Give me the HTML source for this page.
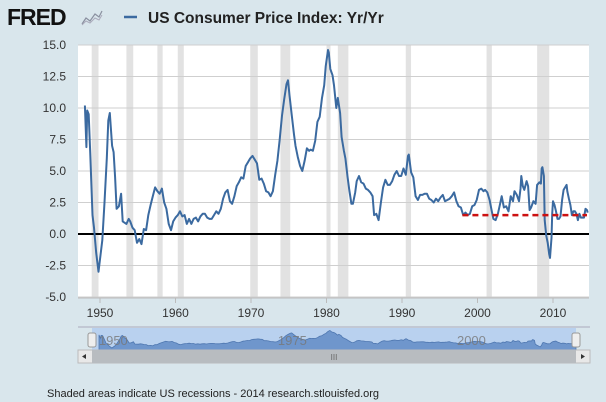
<!DOCTYPE html>
<html><head><meta charset="utf-8"><style>
body{margin:0;width:606px;height:402px;background:#d9e6ec;overflow:hidden;font-family:"Liberation Sans",sans-serif}
svg{display:block}
</style></head><body>
<svg id="c" width="606" height="402">
<text x="7" y="25" font-size="23" font-weight="bold" fill="#111" letter-spacing="-1">FRED</text>
<path d="M82 24 L86 18 L90 21 L95 14 L99 17 L102 11" stroke="#8a90a0" stroke-width="1.2" fill="none"/>
<path d="M82 25 L86 21 L90 23 L95 18 L99 20 L102 15" stroke="#aab" stroke-width="1" fill="none"/>
<line x1="124" y1="17" x2="137" y2="17" stroke="#3b6aa0" stroke-width="2.5"/>
<text x="148" y="23" font-size="15.5" font-weight="bold" fill="#222">US Consumer Price Index: Yr/Yr</text>
<text x="47" y="397" font-size="11" fill="#222">Shaded areas indicate US recessions - 2014 research.stlouisfed.org</text>
</svg>
<script>
const years=[1948.0,1948.2,1948.3,1948.5,1948.7,1949.0,1949.2,1949.5,1949.8,1950.0,1950.3,1950.6,1950.9,1951.1,1951.3,1951.6,1951.8,1952.0,1952.2,1952.5,1952.8,1953.0,1953.5,1953.8,1954.0,1954.3,1954.6,1954.9,1955.2,1955.5,1955.8,1956.1,1956.4,1956.7,1957.0,1957.3,1957.6,1957.9,1958.2,1958.5,1958.8,1959.1,1959.4,1959.7,1960.0,1960.3,1960.6,1960.9,1961.2,1961.5,1961.8,1962.1,1962.4,1962.7,1963.0,1963.3,1963.6,1963.9,1964.2,1964.5,1964.8,1965.1,1965.4,1965.7,1966.0,1966.3,1966.6,1966.9,1967.2,1967.5,1967.8,1968.1,1968.4,1968.7,1969.0,1969.3,1969.6,1969.9,1970.2,1970.5,1970.8,1971.1,1971.4,1971.7,1972.0,1972.3,1972.6,1972.9,1973.2,1973.5,1973.8,1974.1,1974.4,1974.7,1974.9,1975.1,1975.4,1975.7,1975.9,1976.2,1976.5,1976.8,1977.1,1977.4,1977.7,1977.9,1978.2,1978.5,1978.8,1979.1,1979.4,1979.7,1979.9,1980.2,1980.3,1980.5,1980.8,1981.0,1981.3,1981.5,1981.8,1982.0,1982.3,1982.5,1982.8,1983.0,1983.3,1983.5,1983.8,1984.0,1984.3,1984.6,1984.9,1985.2,1985.5,1985.8,1986.1,1986.3,1986.6,1986.9,1987.2,1987.5,1987.8,1988.1,1988.4,1988.7,1989.0,1989.3,1989.6,1989.9,1990.2,1990.5,1990.8,1990.9,1991.2,1991.5,1991.8,1992.1,1992.4,1992.7,1993.0,1993.3,1993.6,1993.9,1994.2,1994.5,1994.8,1995.1,1995.4,1995.7,1996.0,1996.3,1996.6,1996.9,1997.2,1997.5,1997.8,1998.1,1998.4,1998.7,1999.0,1999.3,1999.6,1999.9,2000.2,2000.5,2000.8,2001.0,2001.3,2001.6,2001.9,2002.1,2002.4,2002.7,2003.0,2003.2,2003.5,2003.8,2004.1,2004.4,2004.7,2004.9,2005.2,2005.5,2005.7,2005.8,2006.0,2006.2,2006.5,2006.7,2006.9,2007.1,2007.4,2007.7,2007.9,2008.2,2008.4,2008.5,2008.6,2008.8,2008.9,2009.1,2009.3,2009.5,2009.6,2009.8,2009.9,2010.0,2010.2,2010.4,2010.6,2010.8,2011.0,2011.2,2011.4,2011.6,2011.8,2011.9,2012.1,2012.3,2012.5,2012.7,2012.9,2013.1,2013.3,2013.5,2013.7,2013.9,2014.1,2014.3,2014.5,2014.6];
const cpi=[10.2,6.9,9.8,9.5,6.5,1.5,0.5,-1.5,-3.0,-2.0,-0.5,2.5,6.0,9.0,9.6,7.0,6.5,4.5,2.0,2.2,3.2,1.0,0.8,1.2,1.0,0.5,0.3,-0.7,-0.4,-0.8,0.4,0.3,1.5,2.3,3.0,3.7,3.4,3.2,3.6,2.5,2.0,0.8,0.3,1.0,1.3,1.5,1.8,1.4,1.5,0.8,1.2,0.8,1.2,1.3,1.0,1.4,1.6,1.6,1.3,1.2,1.2,1.5,1.8,1.6,2.0,2.8,3.3,3.5,2.6,2.4,3.0,3.8,4.1,4.5,4.4,5.4,5.7,6.0,6.2,5.9,5.6,4.3,4.4,4.0,3.4,3.3,3.0,3.4,4.7,5.8,7.5,9.4,10.7,11.9,12.2,11.0,9.4,7.9,7.0,6.1,5.4,5.0,5.8,6.8,6.6,6.7,6.6,7.4,8.9,9.3,10.8,11.8,13.3,14.6,14.4,13.1,12.6,11.8,10.0,10.8,9.6,7.7,6.6,6.0,4.5,3.6,2.4,2.4,3.3,4.2,4.6,4.1,4.0,3.6,3.5,3.3,3.0,1.5,1.6,1.1,2.5,3.7,4.3,3.9,3.9,4.2,4.7,5.0,4.6,4.6,5.2,4.7,6.2,6.3,4.9,4.5,3.0,2.7,3.1,3.1,3.2,3.2,2.8,2.7,2.5,2.8,2.6,2.9,3.1,2.6,2.7,2.8,3.0,3.3,2.6,2.2,2.1,1.5,1.7,1.5,1.6,2.2,2.3,2.7,3.5,3.6,3.4,3.5,3.3,2.7,1.8,1.2,1.1,1.6,2.4,3.0,2.1,2.2,1.8,3.0,2.6,3.4,3.1,2.6,3.6,4.6,3.8,3.5,4.2,3.8,1.9,2.1,2.6,2.4,3.9,4.1,4.0,5.2,5.3,4.6,1.1,-0.1,-0.7,-1.6,-1.9,-0.3,1.6,2.6,2.3,1.8,1.2,1.2,1.4,2.7,3.5,3.7,3.9,3.4,2.8,2.3,1.5,1.8,1.8,1.6,1.1,1.6,1.3,1.3,1.3,2.0,1.9,1.7];
const recStart=[1948.9,1953.5,1957.6,1960.3,1969.9,1973.9,1980.0,1981.5,1990.5,2001.2,2007.9];
const recEnd=[1949.8,1954.4,1958.3,1961.1,1970.9,1975.2,1980.5,1982.9,1991.2,2001.9,2009.5];
const yTicks=[-5,-2.5,0,2.5,5,7.5,10,12.5,15];
const xTicks=[1950,1960,1970,1980,1990,2000,2010];
const navLabels=[1950,1975,2000];
const targetLevel=[1.5];
const targetYears=[1998,2014.5];

const NS='http://www.w3.org/2000/svg';
const svg=document.getElementById('c');
const L=78,R=589,T=45,B=298;
const x=y=>100+(y-1950)*7.55;
const yv=v=>234-v*12.6;
function mk(t,a,parent){const e=document.createElementNS(NS,t);for(const k in a)e.setAttribute(k,a[k]);(parent||svg).appendChild(e);return e;}
let e=mk('rect',{x:L,y:T,width:R-L,height:B-T,fill:'#fff'});


recStart.forEach((s,i)=>{const r=mk('rect',{x:x(s),y:T,width:Math.max(x(recEnd[i])-x(s),4),height:B-T,fill:'#e2e2e2'});

});
yTicks.forEach(v=>{const g=mk('line',{x1:L,x2:R,y1:yv(v),y2:yv(v),stroke:v===0?'#000':'#cfcfcf','stroke-width':v===0?2:1});


const t=mk('text',{x:66,y:yv(v)+4,'font-size':12,fill:'#333','text-anchor':'end'});t.textContent=v.toFixed(1);

});
xTicks.forEach(v=>{mk('line',{x1:x(v),x2:x(v),y1:B,y2:B+5,stroke:'#bbb'});
const t=mk('text',{x:x(v),y:317,'font-size':12,fill:'#333','text-anchor':'middle'});t.textContent=v;

});
mk('line',{x1:L,x2:R,y1:B,y2:B,stroke:'#bbb'});
const d=years.map((yr,i)=>(i?'L':'M')+x(yr).toFixed(1)+' '+yv(cpi[i]).toFixed(1)).join(' ');
e=mk('path',{d:d,fill:'none',stroke:'#3b6aa0','stroke-width':2,'stroke-linejoin':'round'});


e=mk('line',{x1:x(targetYears[0]),x2:x(targetYears[1]),y1:yv(targetLevel[0]),y2:yv(targetLevel[0]),stroke:'#cc1111','stroke-width':2.5,'stroke-dasharray':'6,4'});


const NL=92,NR=576,NT=328,NB=350;
e=mk('rect',{x:NL,y:NT,width:NR-NL,height:NB-NT,fill:'#b9d1ef'});


mk('line',{x1:78,x2:590,y1:327,y2:327,stroke:'#aab'});
const nx=yr=>99+(yr-1948)*(NR-99)/(2014.6-1948);
const ny=v=>348-(v+3)*17.5/17.6;
const nd='M'+nx(years[0])+' '+NB+' '+years.map((yr,i)=>'L'+nx(yr).toFixed(1)+' '+ny(cpi[i]).toFixed(1)).join(' ')+' L'+nx(years[years.length-1])+' '+NB+'Z';
e=mk('path',{d:nd,fill:'#6f96cc',stroke:'#4f77b0','stroke-width':0.8});


navLabels.forEach(v=>{const t=mk('text',{x:nx(v),y:345,'font-size':13,fill:'#777','text-anchor':'middle','fill-opacity':0.8});t.textContent=v;

});
[NL-4,NR-4].forEach(hx=>{const h=mk('rect',{x:hx,y:333,width:8,height:14,rx:2,fill:'#eee',stroke:'#999'});

});
e=mk('rect',{x:78,y:350,width:512,height:13,fill:'#e8e8e8',stroke:'#bbb'});


e=mk('rect',{x:NL,y:350,width:NR-NL,height:13,fill:'#b8bcc0'});


let t=mk('text',{x:(NL+NR)/2,y:360,'font-size':8,fill:'#666','text-anchor':'middle'});t.textContent='III';
e=mk('path',{d:'M86 354 L82 356.5 L86 359Z',fill:'#333'});


e=mk('path',{d:'M581 354 L585 356.5 L581 359Z',fill:'#333'});


</script>
</body></html>
